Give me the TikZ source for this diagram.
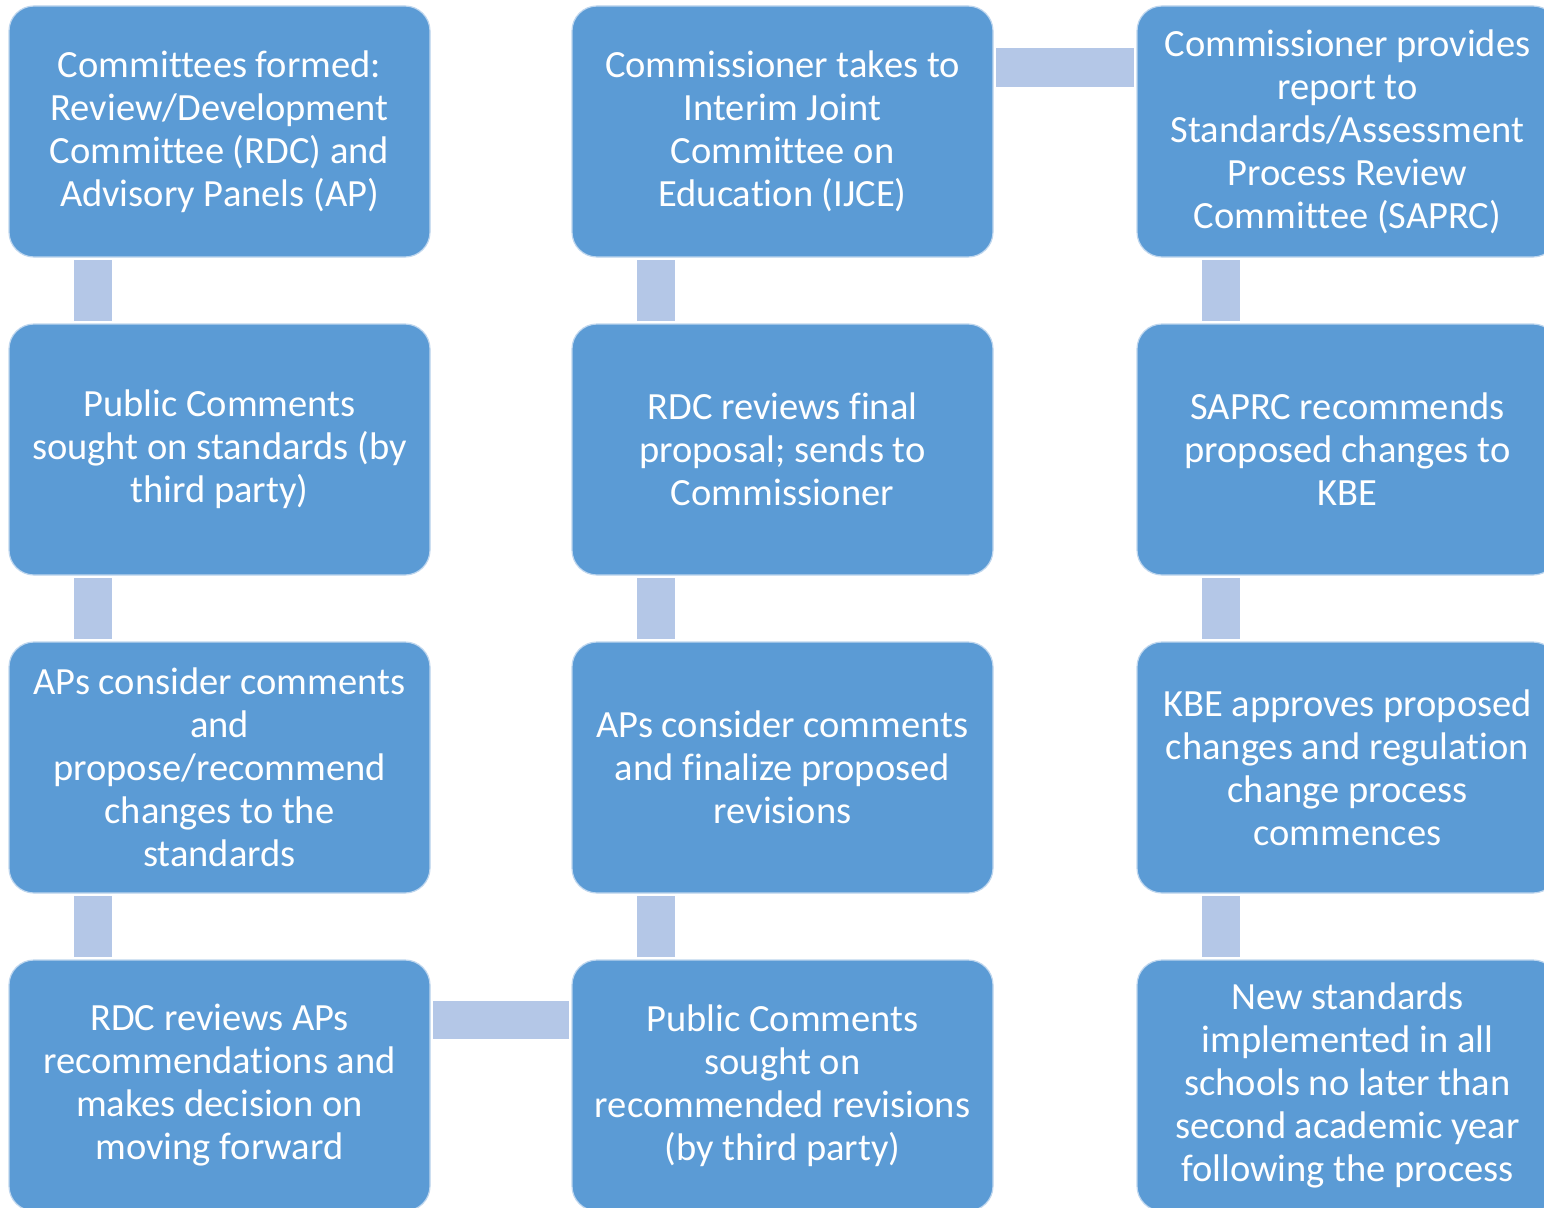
\documentclass[tikz,border=0pt]{standalone}
\usepackage{fontspec}
\setmainfont{Carlito}[Ligatures={NoCommon}]
\usetikzlibrary{calc}
\definecolor{boxblue}{RGB}{91,155,213}
\definecolor{boxedge}{RGB}{190,214,238}
\definecolor{connblue}{RGB}{180,199,231}
\tikzset{
  stepbox/.style={draw=boxedge, line width=1.2pt, fill=boxblue, rounded corners=25pt,
    minimum width=421pt, minimum height=251pt, inner sep=0pt, outer sep=0pt,
    text=white, align=center, font=\fontsize{38.5}{43}\selectfont},
  conn/.style={draw=connblue, line width=38pt, line cap=butt}
}
\begin{document}
\begin{tikzpicture}[x=1pt,y=-1pt]
\clip (0,0) rectangle (1544,1207);
\fill[white] (0,0) rectangle (1544,1207);
% column 1
\node[stepbox] (a1) at (219.5,131.5) {Committees formed:\\Review/Development\\Committee (RDC) and\\Advisory Panels (AP)};
\node[stepbox] (a2) at (219.5,449.5) {Public Comments\\sought on standards (by\\third party)};
\node[stepbox] (a3) at (219.5,767.5) {APs consider comments\\and\\propose/recommend\\changes to the\\standards};
\node[stepbox] (a4) at (219.5,1085.5) {RDC reviews APs\\recommendations and\\makes decision on\\moving forward};
% column 2
\node[stepbox] (b1) at (782.5,131.5) {Commissioner takes to\\Interim Joint\\Committee on\\Education (IJCE)};
\node[stepbox] (b2) at (782.5,449.5) {RDC reviews final\\proposal; sends to\\Commissioner};
\node[stepbox] (b3) at (782.5,767.5) {APs consider comments\\and finalize proposed\\revisions};
\node[stepbox] (b4) at (782.5,1085.5) {Public Comments\\sought on\\recommended revisions\\(by third party)};
% column 3
\node[stepbox] (c1) at (1347.5,131.5) {Commissioner provides\\report to\\Standards/Assessment\\Process Review\\Committee (SAPRC)};
\node[stepbox] (c2) at (1347.5,449.5) {SAPRC recommends\\proposed changes to\\KBE};
\node[stepbox] (c3) at (1347.5,767.5) {KBE approves proposed\\changes and regulation\\change process\\commences};
\node[stepbox] (c4) at (1347.5,1085.5) {New standards\\implemented in all\\schools no later than\\second academic year\\following the process};
% vertical connectors
\draw[conn] ($(a1.south west)+(83.5,3)$) -- ($(a2.north west)+(83.5,-3)$);
\draw[conn] ($(a2.south west)+(83.5,3)$) -- ($(a3.north west)+(83.5,-3)$);
\draw[conn] ($(a3.south west)+(83.5,3)$) -- ($(a4.north west)+(83.5,-3)$);
\draw[conn] ($(b4.north west)+(83.5,-3)$) -- ($(b3.south west)+(83.5,3)$);
\draw[conn] ($(b3.north west)+(83.5,-3)$) -- ($(b2.south west)+(83.5,3)$);
\draw[conn] ($(b2.north west)+(83.5,-3)$) -- ($(b1.south west)+(83.5,3)$);
\draw[conn] ($(c1.south west)+(83.5,3)$) -- ($(c2.north west)+(83.5,-3)$);
\draw[conn] ($(c2.south west)+(83.5,3)$) -- ($(c3.north west)+(83.5,-3)$);
\draw[conn] ($(c3.south west)+(83.5,3)$) -- ($(c4.north west)+(83.5,-3)$);
% horizontal connectors
\draw[conn] ($(a4.north east)+(3,60)$) -- ($(b4.north west)+(-3,60)$);
\draw[conn] ($(b1.north east)+(3,61.5)$) -- ($(c1.north west)+(-3,61.5)$);
\end{tikzpicture}
\end{document}
